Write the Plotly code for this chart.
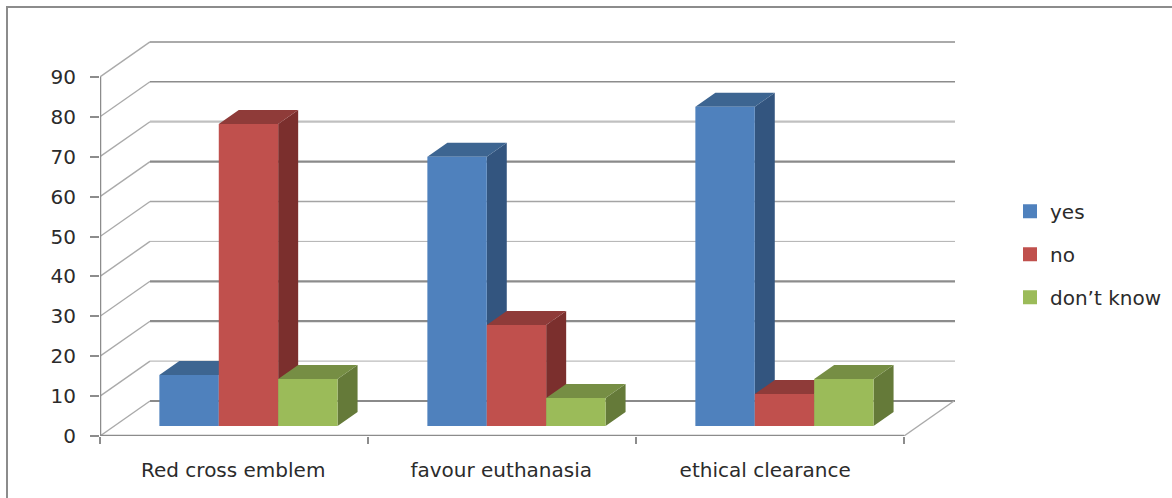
import plotly.graph_objects as go

categories = ["Red cross emblem", "favour euthanasia", "ethical clearance"]
series_names = ["yes", "no", "don’t know"]
yes_values = [12.8, 67.5, 80.0]
no_values = [75.7, 25.3, 8.0]
dont_know_values = [11.8, 7.0, 11.8]
series_values = [yes_values, no_values, dont_know_values]
y_ticks = [0, 10, 20, 30, 40, 50, 60, 70, 80, 90]

front_colors = ["#4f81bd", "#c0504d", "#9bbb59"]
top_colors = ["#3d6591", "#8f3b39", "#768e44"]
side_colors = ["#33557f", "#7b2f2d", "#657a39"]

grid_colors = ["#8a8a8a", "#bcbcbc", "#8c8c8c", "#8c8c8c", "#b0b0b0", "#a4a4a4", "#8a8a8a", "#c0c0c0", "#8c8c8c", "#8e8e8e"]
grid_widths = [2.2, 1.2, 2.2, 2.2, 1, 1.6, 2.4, 2.2, 1.6, 1.5]

AXIS = "#8c8c8c"
FONT = dict(family="DejaVu Sans", size=20, color="#2b2b2b")
PX_X = 268.0
PX_Y = 3.99
WALL_DX = 50 / PX_X
WALL_DY = 35 / PX_Y
BAR_W = 59.4 / PX_X
BAR_DX = 20 / PX_X
BAR_DY = 14 / PX_Y
BAR_BASE = 10 / PX_Y
BAR_SHIFT = 0.054
X_MAX = 855 / PX_X
Y_MAX = 395 / PX_Y

fig = go.Figure()
line_kw = dict(mode="lines", showlegend=False, hoverinfo="skip", cliponaxis=False)

for v, c, w in zip(y_ticks, grid_colors, grid_widths):
    fig.add_trace(go.Scatter(x=[0, WALL_DX], y=[v, v + WALL_DY], line=dict(color="#aaaaaa", width=1.4), **line_kw))
    fig.add_trace(go.Scatter(x=[WALL_DX, X_MAX], y=[v + WALL_DY, v + WALL_DY], line=dict(color=c, width=w), **line_kw))

fig.add_trace(go.Scatter(x=[len(categories), len(categories) + WALL_DX], y=[0, WALL_DY],
                         line=dict(color="#aaaaaa", width=1.4), **line_kw))
fig.add_trace(go.Scatter(x=[0, 0], y=[0, max(y_ticks)], line=dict(color=AXIS, width=2.5), **line_kw))
fig.add_trace(go.Scatter(x=[0, len(categories)], y=[0, 0], line=dict(color=AXIS, width=2.5), **line_kw))

for s, (name, vals) in enumerate(zip(series_names, series_values)):
    xs = [i + 0.5 + BAR_SHIFT + (s - 1) * BAR_W for i in range(len(categories))]
    top_x, top_y, side_x, side_y = [], [], [], []
    for x, v in zip(xs, vals):
        l, r, t = x - BAR_W / 2, x + BAR_W / 2, BAR_BASE + v
        top_x += [l, l + BAR_DX, r + BAR_DX, r, l, None]
        top_y += [t, t + BAR_DY, t + BAR_DY, t, t, None]
        side_x += [r, r + BAR_DX, r + BAR_DX, r, r, None]
        side_y += [BAR_BASE, BAR_BASE + BAR_DY, t + BAR_DY, t, BAR_BASE, None]
    fig.add_trace(go.Scatter(x=side_x, y=side_y, mode="lines", fill="toself", fillcolor=side_colors[s],
                             line=dict(width=0), showlegend=False, hoverinfo="skip", zorder=2 * s + 1))
    fig.add_trace(go.Scatter(x=top_x, y=top_y, mode="lines", fill="toself", fillcolor=top_colors[s],
                             line=dict(width=0), showlegend=False, hoverinfo="skip", zorder=2 * s + 1))
    fig.add_trace(go.Bar(x=xs, y=vals, base=BAR_BASE, width=BAR_W, marker=dict(color=front_colors[s], line=dict(width=0)),
                         showlegend=False, name=name, zorder=2 * s + 2))
    fig.add_trace(go.Scatter(x=[None], y=[None], mode="markers", name=name, legendgroup=name,
                             marker=dict(symbol="square", size=14, color=front_colors[s])))

fig.update_layout(
    width=1172, height=498, autosize=False,
    margin=dict(l=100, r=217, t=41, b=62, pad=0, autoexpand=False),
    paper_bgcolor="white", plot_bgcolor="white",
    font=FONT, barmode="overlay",
    xaxis=dict(range=[0, X_MAX], tickvals=[0.497, 1.497, 2.482], ticktext=categories,
               ticks="", showgrid=False, zeroline=False, showline=False, tickfont=FONT,
               ticklabelstandoff=20, automargin=False,
               minor=dict(tickvals=list(range(len(categories) + 1)), ticks="outside", ticklen=7, tickwidth=2,
                          tickcolor=AXIS, showgrid=False)),
    yaxis=dict(range=[0, Y_MAX], tickvals=y_ticks, ticks="outside", ticklen=9, tickwidth=2, tickcolor=AXIS,
               showgrid=False, zeroline=False, showline=False, tickfont=FONT, ticklabelstandoff=10, automargin=False),
    legend=dict(x=(1010 - 100) / 855, xanchor="left", y=0.46, yanchor="middle", font=FONT,
                tracegroupgap=14, bgcolor="rgba(0,0,0,0)", traceorder="grouped"),
    shapes=[dict(type="path", xref="paper", yref="paper", layer="below",
                 path=f"M {(1175 - 100) / 855} {(436 - 7) / 395} L {(7 - 100) / 855} {(436 - 7) / 395} L {(7 - 100) / 855} {(436 - 500) / 395}",
                 line=dict(color="#8c8c8c", width=2))],
)
fig.write_html("out.html", post_script="document.body.style.margin='0';", config=dict(displayModeBar=False))
